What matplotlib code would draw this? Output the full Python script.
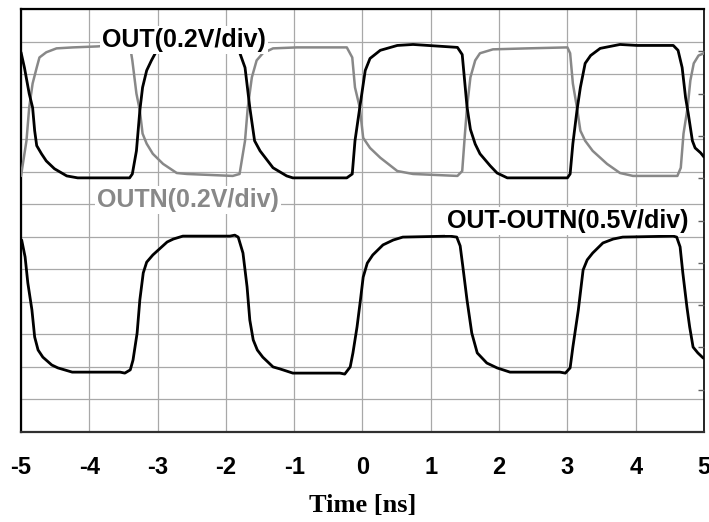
import numpy as np
import matplotlib.pyplot as plt

# time in ns, levels in screen divisions (13 divisions high)
out_t = [-5.00, -4.95, -4.88, -4.83, -4.80, -4.77, -4.70, -4.63, -4.51, -4.33, -4.17,
         -3.41, -3.37, -3.31, -3.26, -3.22, -3.16, -3.09, -3.01, -2.85, -2.40, -1.90,
         -1.80, -1.72, -1.65, -1.58, -1.50, -1.31, -1.11, -1.02, -0.23, -0.15, -0.11,
         -0.04, 0.04, 0.11, 0.26, 0.51, 0.74, 1.39, 1.46, 1.53, 1.58, 1.65, 1.72, 1.87,
         1.97, 2.12, 3.00, 3.04, 3.08, 3.14, 3.19, 3.26, 3.34, 3.48, 3.77, 4.02, 4.55,
         4.62, 4.68, 4.73, 4.77, 4.83, 4.87, 4.95, 5.00]
out_v = [11.67, 11.20, 10.40, 9.97, 9.26, 8.80, 8.55, 8.33, 8.09, 7.87, 7.81,
         7.81, 7.93, 8.64, 9.88, 10.59, 11.11, 11.42, 11.73, 11.90, 11.92, 11.88,
         11.67, 11.20, 9.97, 8.95, 8.64, 8.12, 7.87, 7.81, 7.81, 7.93, 8.95,
         9.97, 11.11, 11.48, 11.73, 11.88, 11.91, 11.82, 11.60, 10.00, 9.30, 8.85, 8.55, 8.18,
         7.96, 7.81, 7.81, 7.93, 8.86, 9.88, 10.59, 11.33, 11.57, 11.79, 11.91, 11.88, 11.88,
         11.73, 11.20, 10.28, 9.78, 8.95, 8.73, 8.58, 8.45]

outn_t = [-5.00, -4.92, -4.88, -4.83, -4.77, -4.73, -4.63, -4.48, -4.24, -3.88, -3.60,
          -3.41, -3.37, -3.31, -3.26, -3.22, -3.16, -3.07, -2.92, -2.72, -2.57, -1.90,
          -1.80, -1.72, -1.68, -1.62, -1.55, -1.46, -1.31, -0.96, -0.23, -0.15, -0.11,
          -0.04, 0.01, 0.11, 0.26, 0.51, 0.74, 1.39, 1.46, 1.50, 1.53, 1.58, 1.65, 1.72,
          1.91, 2.41, 3.00, 3.04, 3.08, 3.14, 3.19, 3.26, 3.37, 3.58, 3.77, 3.96, 4.61,
          4.66, 4.70, 4.76, 4.80, 4.85, 4.92, 5.00]
outn_v = [7.87, 8.95, 9.97, 10.71, 11.20, 11.51, 11.67, 11.79, 11.82, 11.85, 11.90,
          11.94, 11.42, 10.40, 9.88, 9.17, 8.86, 8.55, 8.24, 7.96, 7.93, 7.87,
          7.93, 8.95, 9.97, 10.90, 11.42, 11.64, 11.79, 11.82, 11.82, 11.51, 10.59,
          9.97, 9.04, 8.73, 8.43, 8.02, 7.93, 7.87, 8.02, 9.17, 9.97, 10.90, 11.42, 11.64,
          11.76, 11.79, 11.82, 11.64, 10.71, 9.97, 9.26, 8.95, 8.64, 8.24, 7.96, 7.87, 7.87,
          8.12, 9.17, 9.97, 10.80, 11.33, 11.57, 11.64]

diff_t = [-4.99, -4.94, -4.90, -4.84, -4.80, -4.75, -4.68, -4.55, -4.46, -4.25, -3.55,
          -3.48, -3.40, -3.36, -3.30, -3.26, -3.21, -3.16, -3.07, -2.96, -2.86, -2.77,
          -2.63, -1.94, -1.87, -1.82, -1.75, -1.69, -1.65, -1.60, -1.54, -1.46, -1.31,
          -1.21, -1.02, -0.33, -0.26, -0.18, -0.14, -0.08, -0.03, 0.01, 0.07, 0.15, 0.30,
          0.45, 0.59, 1.28, 1.38, 1.43, 1.47, 1.53, 1.60, 1.68, 1.82, 1.97, 2.16, 2.89,
          2.97, 3.04, 3.08, 3.16, 3.23, 3.29, 3.37, 3.52, 3.67, 3.81, 4.55, 4.60, 4.65,
          4.69, 4.75, 4.79, 4.84, 4.91, 4.99]
diff_v = [5.90, 5.38, 4.58, 3.75, 2.92, 2.52, 2.30, 2.06, 1.97, 1.84, 1.84,
          1.81, 1.91, 2.21, 3.04, 4.06, 4.89, 5.22, 5.44, 5.65, 5.84, 5.93,
          6.02, 6.02, 6.05, 5.99, 5.50, 4.46, 3.44, 2.83, 2.52, 2.30, 2.00,
          1.94, 1.81, 1.81, 1.78, 2.00, 2.43, 3.23, 4.06, 4.76, 5.19, 5.44, 5.75,
          5.90, 5.99, 6.02, 5.99, 5.72, 5.07, 4.06, 3.04, 2.43, 2.12, 1.97, 1.84, 1.84,
          1.81, 1.97, 2.61, 3.75, 4.98, 5.29, 5.50, 5.81, 5.93, 5.99, 6.02, 5.99, 5.69,
          4.89, 3.84, 3.23, 2.61, 2.43, 2.27]

x_ticks = [-5, -4, -3, -2, -1, 0, 1, 2, 3, 4, 5]

fig = plt.figure(figsize=(7.09, 5.22), dpi=100)
ax = fig.add_axes([21 / 709, 90 / 522, 683 / 709, 423 / 522])
ax.set_xlim(-5, 5)
ax.set_ylim(0, 13)

ax.set_xticks(x_ticks)
ax.set_xticklabels([str(v) for v in x_ticks], fontfamily='Liberation Sans',
                   fontweight='bold', fontsize=17)
ax.set_yticks(np.arange(0, 14))
ax.set_yticklabels([])
ax.tick_params(axis='both', length=0, pad=17)
ax.grid(True, color='#a8a8a8', linewidth=0.9)
ax.set_axisbelow(True)

for side, lw, col in [('top', 1.6, 'black'), ('left', 1.6, 'black'),
                      ('bottom', 1.6, '#303030'), ('right', 1.2, 'black')]:
    ax.spines[side].set_linewidth(lw)
    ax.spines[side].set_color(col)

line = dict(solid_joinstyle='round', solid_capstyle='round')
ax.plot(outn_t, outn_v, color='#888888', linewidth=1.8, zorder=3, **line)
ax.plot(out_t, out_v, color='black', linewidth=2.0, zorder=4, **line)
ax.plot(diff_t, diff_v, color='black', linewidth=2.0, zorder=4, **line)

lab = dict(fontfamily='Liberation Sans', fontweight='bold', fontsize=18,
           va='baseline', ha='left', zorder=6,
           bbox=dict(facecolor='white', edgecolor='none', pad=1.5))
ax.text(-3.81, 11.83, 'OUT(0.2V/div)', color='black', **lab)
ax.text(-3.89, 6.91, 'OUTN(0.2V/div)', color='#888888', **lab)
ax.text(1.24, 6.27, 'OUT-OUTN(0.5V/div)', color='black', **lab)

# small inward ticks on the right edge
ax2 = ax.twinx()
ax2.set_ylim(0, 10)
ax2.set_yticks(np.arange(1, 10))
ax2.set_yticklabels([])
ax2.tick_params(axis='y', direction='in', length=4, width=1, color='#606060')
for s in ax2.spines.values():
    s.set_visible(False)

ax.set_xlabel('Time [ns]', fontfamily='Liberation Serif', fontweight='bold',
              fontsize=19, labelpad=11)

fig.savefig('out.png', dpi=100)
